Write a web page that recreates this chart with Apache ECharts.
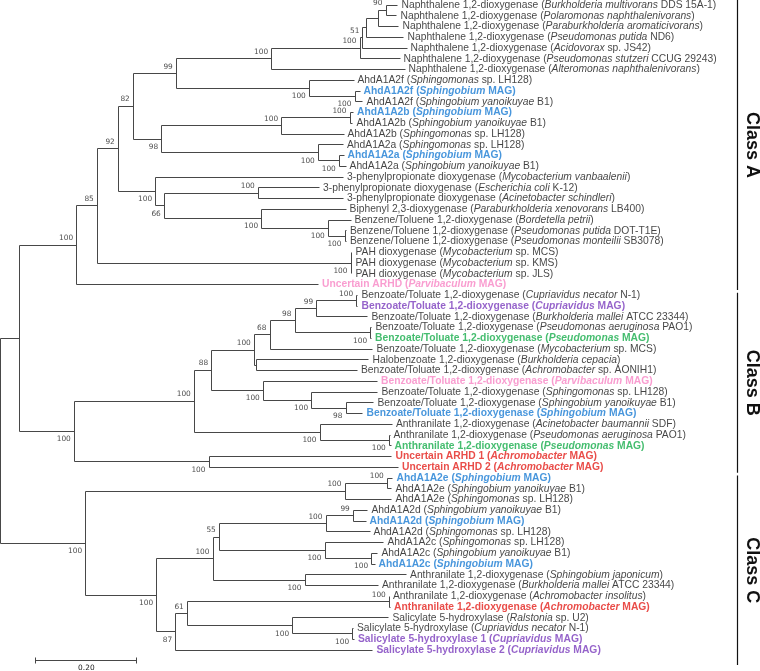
<!DOCTYPE html>
<html><head><meta charset="utf-8">
<script src="https://cdn.jsdelivr.net/npm/echarts@6/dist/echarts.min.js"></script>
<style>html,body{margin:0;padding:0;background:#fff}#c{width:760px;height:671px}</style>
</head><body><div id="c"></div>
<script>
// ---------- DATA ----------
// Leaves in display order (top to bottom); *...* marks italic text
const leafNames = [
  'Naphthalene 1,2-dioxygenase (*Burkholderia multivorans* DDS 15A-1)',
  'Naphthalene 1,2-dioxygenase (*Polaromonas naphthalenivorans*)',
  'Naphthalene 1,2-dioxygenase (*Paraburkholderia aromaticivorans*)',
  'Naphthalene 1,2-dioxygenase (*Pseudomonas putida* ND6)',
  'Naphthalene 1,2-dioxygenase (*Acidovorax* sp. JS42)',
  'Naphthalene 1,2-dioxygenase (*Pseudomonas stutzeri* CCUG 29243)',
  'Naphthalene 1,2-dioxygenase (*Alteromonas naphthalenivorans*)',
  'AhdA1A2f (*Sphingomonas* sp. LH128)',
  'AhdA1A2f (*Sphingobium* MAG)',
  'AhdA1A2f (*Sphingobium yanoikuyae* B1)',
  'AhdA1A2b (*Sphingobium* MAG)',
  'AhdA1A2b (*Sphingobium yanoikuyae* B1)',
  'AhdA1A2b (*Sphingomonas* sp. LH128)',
  'AhdA1A2a (*Sphingomonas* sp. LH128)',
  'AhdA1A2a (*Sphingobium* MAG)',
  'AhdA1A2a (*Sphingobium yanoikuyae* B1)',
  '3-phenylpropionate dioxygenase (*Mycobacterium vanbaalenii*)',
  '3-phenylpropionate dioxygenase (*Escherichia coli* K-12)',
  '3-phenylpropionate dioxygenase (*Acinetobacter schindleri*)',
  'Biphenyl 2,3-dioxygenase (*Paraburkholderia xenovorans* LB400)',
  'Benzene/Toluene 1,2-dioxygenase (*Bordetella petrii*)',
  'Benzene/Toluene 1,2-dioxygenase (*Pseudomonas putida* DOT-T1E)',
  'Benzene/Toluene 1,2-dioxygenase (*Pseudomonas monteilii* SB3078)',
  'PAH dioxygenase (*Mycobacterium* sp. MCS)',
  'PAH dioxygenase (*Mycobacterium* sp. KMS)',
  'PAH dioxygenase (*Mycobacterium* sp. JLS)',
  'Uncertain ARHD (*Parvibaculum* MAG)',
  'Benzoate/Toluate 1,2-dioxygenase (*Cupriavidus necator* N-1)',
  'Benzoate/Toluate 1,2-dioxygenase (*Cupriavidus* MAG)',
  'Benzoate/Toluate 1,2-dioxygenase (*Burkholderia mallei* ATCC 23344)',
  'Benzoate/Toluate 1,2-dioxygenase (*Pseudomonas aeruginosa* PAO1)',
  'Benzoate/Toluate 1,2-dioxygenase (*Pseudomonas* MAG)',
  'Benzoate/Toluate 1,2-dioxygenase (*Mycobacterium* sp. MCS)',
  'Halobenzoate 1,2-dioxygenase (*Burkholderia cepacia*)',
  'Benzoate/Toluate 1,2-dioxygenase (*Achromobacter* sp. AONIH1)',
  'Benzoate/Toluate 1,2-dioxygenase (*Parvibaculum* MAG)',
  'Benzoate/Toluate 1,2-dioxygenase (*Sphingomonas* sp. LH128)',
  'Benzoate/Toluate 1,2-dioxygenase (*Sphingobium yanoikuyae* B1)',
  'Benzoate/Toluate 1,2-dioxygenase (*Sphingobium* MAG)',
  'Anthranilate 1,2-dioxygenase (*Acinetobacter baumannii* SDF)',
  'Anthranilate 1,2-dioxygenase (*Pseudomonas aeruginosa* PAO1)',
  'Anthranilate 1,2-dioxygenase (*Pseudomonas* MAG)',
  'Uncertain ARHD 1 (*Achromobacter* MAG)',
  'Uncertain ARHD 2 (*Achromobacter* MAG)',
  'AhdA1A2e (*Sphingobium* MAG)',
  'AhdA1A2e (*Sphingobium yanoikuyae* B1)',
  'AhdA1A2e (*Sphingomonas* sp. LH128)',
  'AhdA1A2d (*Sphingobium yanoikuyae* B1)',
  'AhdA1A2d (*Sphingobium* MAG)',
  'AhdA1A2d (*Sphingomonas* sp. LH128)',
  'AhdA1A2c (*Sphingomonas* sp. LH128)',
  'AhdA1A2c (*Sphingobium yanoikuyae* B1)',
  'AhdA1A2c (*Sphingobium* MAG)',
  'Anthranilate 1,2-dioxygenase (*Sphingobium japonicum*)',
  'Anthranilate 1,2-dioxygenase (*Burkholderia mallei* ATCC 23344)',
  'Anthranilate 1,2-dioxygenase (*Achromobacter insolitus*)',
  'Anthranilate 1,2-dioxygenase (*Achromobacter* MAG)',
  'Salicylate 5-hydroxylase (*Ralstonia* sp. U2)',
  'Salicylate 5-hydroxylase (*Cupriavidus necator* N-1)',
  'Salicylate 5-hydroxylase 1 (*Cupriavidus* MAG)',
  'Salicylate 5-hydroxylase 2 (*Cupriavidus* MAG)'
];
// MAG group of each leaf ('' = reference sequence)
const leafGroup = [
  '','','','','','','',
  '','Sphingobium','','Sphingobium','','','','Sphingobium','',
  '','','','','','','','','','','Parvibaculum',
  '','Cupriavidus','','','Pseudomonas','','','','Parvibaculum','','','Sphingobium','','','Pseudomonas','Achromobacter','Achromobacter',
  'Sphingobium','','','','Sphingobium','','','','Sphingobium','','','','Achromobacter','','','Cupriavidus','Cupriavidus'
];
// distance from root to each leaf tip (substitutions/site)
const leafDepth = [
  0.7871,0.7851,0.7891,0.7990,0.8050,0.7911,0.8010,
  0.7000,0.7119,0.7178,0.6990,0.6980,0.6802,0.6792,0.6802,0.6842,
  0.6792,0.6317,0.6792,0.6842,0.6941,0.6851,0.6851,0.6960,0.6960,0.6960,0.6297,
  0.7079,0.7079,0.7277,0.7356,0.7347,0.7376,0.7297,0.7069,0.7465,0.7475,0.7396,0.7178,0.7762,0.7713,0.7733,0.7752,0.7881,
  0.7772,0.7752,0.7752,0.7277,0.7238,0.7317,0.7594,0.7475,0.7416,0.8040,0.7485,0.7703,0.7723,0.7693,0.6990,0.7010,0.7376
];
// internal nodes: id, children (leaf index or node id), depth from root, bootstrap support
const nodeIds = ['n90','n2','n3','n51','napA','napB','fIn','f','n99','bIn','b','aIn','a','n98','n82',
  'pp','btIn','bt','bp','n66','ppg','n92','pah','n85','classA',
  'cup','n99b','ps','n98b','n68','halo','btb','sphIn','sphMid','sph','n88','anIn','an','bGroup','unc','classB','ab',
  'eIn','e','dIn','d','cIn','c','n55','anC','cGroup','achr','salIn','sal','n61','n87','cc','classC','root'];
const nodeChildren = [[0,1],['n90',2],['n2',3],['n3',4],['n51',5],['napA',6],[8,9],[7,'fIn'],['napB','f'],[10,11],['bIn',12],[14,15],[13,'aIn'],['b','a'],['n99','n98'],
  [17,18],[21,22],[20,'btIn'],[19,'bt'],['pp','bp'],[16,'n66'],['n82','ppg'],[23,24,25],['n92','pah'],['n85',26],
  [27,28],['cup',29],[30,31],['n99b','ps'],['n98b',32],[33,34],['n68','halo'],[37,38],[36,'sphIn'],[35,'sphMid'],['btb','sph'],[40,41],[39,'anIn'],['n88','an'],[42,43],['bGroup','unc'],['classA','classB'],
  [44,45],['eIn',46],[47,48],['dIn',49],[51,52],[50,'cIn'],['d','c'],[53,54],['n55','anC'],[55,56],[58,59],[57,'salIn'],['achr','sal'],['n61',60],['cGroup','n87'],['e','cc'],['ab','classC']];
const nodeDepth = [0.7634,0.7481,0.7251,0.7178,0.7119,0.5370,0.7020,0.6115,0.3481,0.6921,0.5568,0.6709,0.6293,0.3192,0.2630,
  0.5105,0.6822,0.6491,0.5172,0.3244,0.3073,0.2333,0.6941,0.1917,0.1509,
  0.7053,0.6261,0.7331,0.5832,0.5337,0.5073,0.5026,0.6842,0.6162,0.5204,0.4182,0.7699,0.6327,0.3838,0.4129,0.1461,0.0380,
  0.7659,0.6822,0.6986,0.6446,0.7350,0.6426,0.4333,0.6030,0.4208,0.7699,0.6974,0.5786,0.3699,0.3469,0.3093,0.1687,0];
const nodeSupport = [90,null,null,51,100,100,100,100,99,100,100,100,100,98,82,
  100,100,100,100,66,100,92,100,85,100,
  100,99,100,98,68,null,100,98,100,100,88,100,100,100,100,100,null,
  100,100,99,100,100,100,55,100,100,100,100,100,61,87,100,100,null];
const classNames = ['Class A','Class B','Class C'];
const classFirstLeaf = [0,27,44];
const classLastLeaf = [26,43,60];
const scaleBarStart = 0.07;
const scaleBarLength = 0.20;
const scaleBarLabel = '0.20';

// ---------- STYLE / LAYOUT ----------
const groupColors = {'':'#141414', Sphingobium:'#1a7cd3', Parvibaculum:'#f784c4', Cupriavidus:'#7a3cbd', Pseudomonas:'#17ad4b', Achromobacter:'#e3211b'};
const supportBelow = new Set(['fIn','f','aIn','a','n98','btIn','bt','bp','n66','ppg','pah','ps','sphIn','sphMid','sph','anIn','an','unc','classB','cIn','c','anC','salIn','sal','n87','cc','classC']);
const LEAF_FONT = '"Liberation Sans", Arial, sans-serif';
const BOOT_FONT = '"DejaVu Sans", sans-serif';
const LEAF_SIZE = 10.3;
const BOOT_SIZE = 7.4;
const LINE_COLOR = '#474747';

// ---------- TREE LAYOUT ----------
const nodeIndex = {}; nodeIds.forEach((id, k) => nodeIndex[id] = k);
const memoY = {};
function yOf(r) {
  if (typeof r === 'number') return r;
  if (memoY[r] !== undefined) return memoY[r];
  const ch = nodeChildren[nodeIndex[r]];
  return (memoY[r] = (yOf(ch[0]) + yOf(ch[ch.length - 1])) / 2);
}
function xOf(r) { return typeof r === 'number' ? leafDepth[r] : nodeDepth[nodeIndex[r]]; }
const segments = [];
nodeIds.forEach((id, k) => {
  const x = nodeDepth[k], ch = nodeChildren[k];
  segments.push([x, yOf(ch[0]), x, yOf(ch[ch.length - 1])]);
  ch.forEach(c => segments.push([x, yOf(c), xOf(c), yOf(c)]));
});

const rich = {};
const groupKeys = Object.keys(groupColors);
groupKeys.forEach((g, k) => {
  const w = g ? 'bold' : 'normal';
  rich['n' + k] = {color: groupColors[g], fontWeight: w, fontStyle: 'normal', fontSize: LEAF_SIZE, fontFamily: LEAF_FONT, lineHeight: 12};
  rich['i' + k] = {color: groupColors[g], fontWeight: w, fontStyle: 'italic', fontSize: LEAF_SIZE, fontFamily: LEAF_FONT, lineHeight: 12};
});
function richName(i) {
  const k = groupKeys.indexOf(leafGroup[i]);
  return leafNames[i].split('*').map((part, j) => part ? '{' + (j % 2 ? 'i' : 'n') + k + '|' + part + '}' : '').join('');
}
const leafData = leafNames.map((_, i) => [leafDepth[i], i]);
const supportData = [];
nodeIds.forEach((id, k) => {
  if (nodeSupport[k] == null) return;
  supportData.push({value: [nodeDepth[k], yOf(id), nodeSupport[k]], label: {offset: [0, supportBelow.has(id) ? 7.8 : -7]}});
});
const snap = v => Math.round(v - 0.5) + 0.5;

const chart = echarts.init(document.getElementById('c'), null, {renderer: 'canvas'});
chart.setOption({
  animation: false,
  backgroundColor: '#fff',
  grid: {left: 0.5, right: 2, top: 5, bottom: 21},
  xAxis: {type: 'value', min: 0, max: 1.5, show: false},
  yAxis: {type: 'value', min: 0, max: 60, inverse: true, show: false},
  series: [
    {
      type: 'custom', coordinateSystem: 'cartesian2d', silent: true,
      data: segments, encode: {x: [0, 2], y: [1, 3]},
      renderItem: (params, api) => {
        const p1 = api.coord([api.value(0), api.value(1)]);
        const p2 = api.coord([api.value(2), api.value(3)]);
        return {type: 'line', shape: {x1: snap(p1[0]), y1: snap(p1[1]), x2: snap(p2[0]), y2: snap(p2[1])},
          style: {stroke: LINE_COLOR, lineWidth: 1}};
      }
    },
    {
      type: 'scatter', silent: true, symbolSize: 1, itemStyle: {color: 'rgba(0,0,0,0)'},
      data: leafData,
      label: {show: true, position: 'right', distance: 3, formatter: p => richName(p.dataIndex), rich: rich,
        fontSize: LEAF_SIZE, fontFamily: LEAF_FONT, color: '#141414', verticalAlign: 'middle'}
    },
    {
      type: 'scatter', silent: true, symbolSize: 1, itemStyle: {color: 'rgba(0,0,0,0)'},
      data: supportData,
      label: {show: true, position: 'left', distance: 3, formatter: p => String(p.value[2]),
        fontSize: BOOT_SIZE, fontFamily: BOOT_FONT, color: '#1a1a1a'}
    },
    {
      type: 'custom', coordinateSystem: 'cartesian2d', silent: true,
      data: [[scaleBarStart, leafNames.length, scaleBarLength]],
      renderItem: (params, api) => {
        const a = api.coord([api.value(0), api.value(1)]);
        const b = api.coord([api.value(0) + api.value(2), api.value(1)]);
        const y = snap(a[1]);
        const st = {stroke: LINE_COLOR, lineWidth: 1};
        return {type: 'group', children: [
          {type: 'line', shape: {x1: snap(a[0]), y1: y, x2: snap(b[0]), y2: y}, style: st},
          {type: 'line', shape: {x1: snap(a[0]), y1: y - 3, x2: snap(a[0]), y2: y + 3}, style: st},
          {type: 'line', shape: {x1: snap(b[0]), y1: y - 3, x2: snap(b[0]), y2: y + 3}, style: st},
          {type: 'text', x: (a[0] + b[0]) / 2, y: y + 8, style: {text: scaleBarLabel, fontSize: BOOT_SIZE, fontFamily: BOOT_FONT,
            fill: '#1a1a1a', align: 'center', verticalAlign: 'middle'}}
        ]};
      }
    },
    {
      type: 'custom', coordinateSystem: 'cartesian2d', silent: true,
      data: classNames.map((n, i) => [classFirstLeaf[i], classLastLeaf[i]]),
      encode: {y: [0, 1]},
      renderItem: (params, api) => {
        const i = params.dataIndex;
        const t = api.coord([0, api.value(0)])[1];
        const b = api.coord([0, api.value(1)])[1];
        const top = i === 0 ? 0 : t - 2.5;
        const bot = i === classNames.length - 1 ? b + 15 : b + 5.5;
        const x = api.getWidth() - 23;
        return {type: 'group', children: [
          {type: 'line', shape: {x1: snap(x), y1: top, x2: snap(x), y2: bot}, style: {stroke: '#111', lineWidth: 1.2}},
          {type: 'text', x: x + 15, y: (top + bot) / 2, rotation: -Math.PI / 2,
            style: {text: classNames[i], fontSize: 18, fontWeight: 'bold', fontFamily: LEAF_FONT, fill: '#111',
              align: 'center', verticalAlign: 'middle'}}
        ]};
      }
    }
  ]
});
</script>
</body></html>
